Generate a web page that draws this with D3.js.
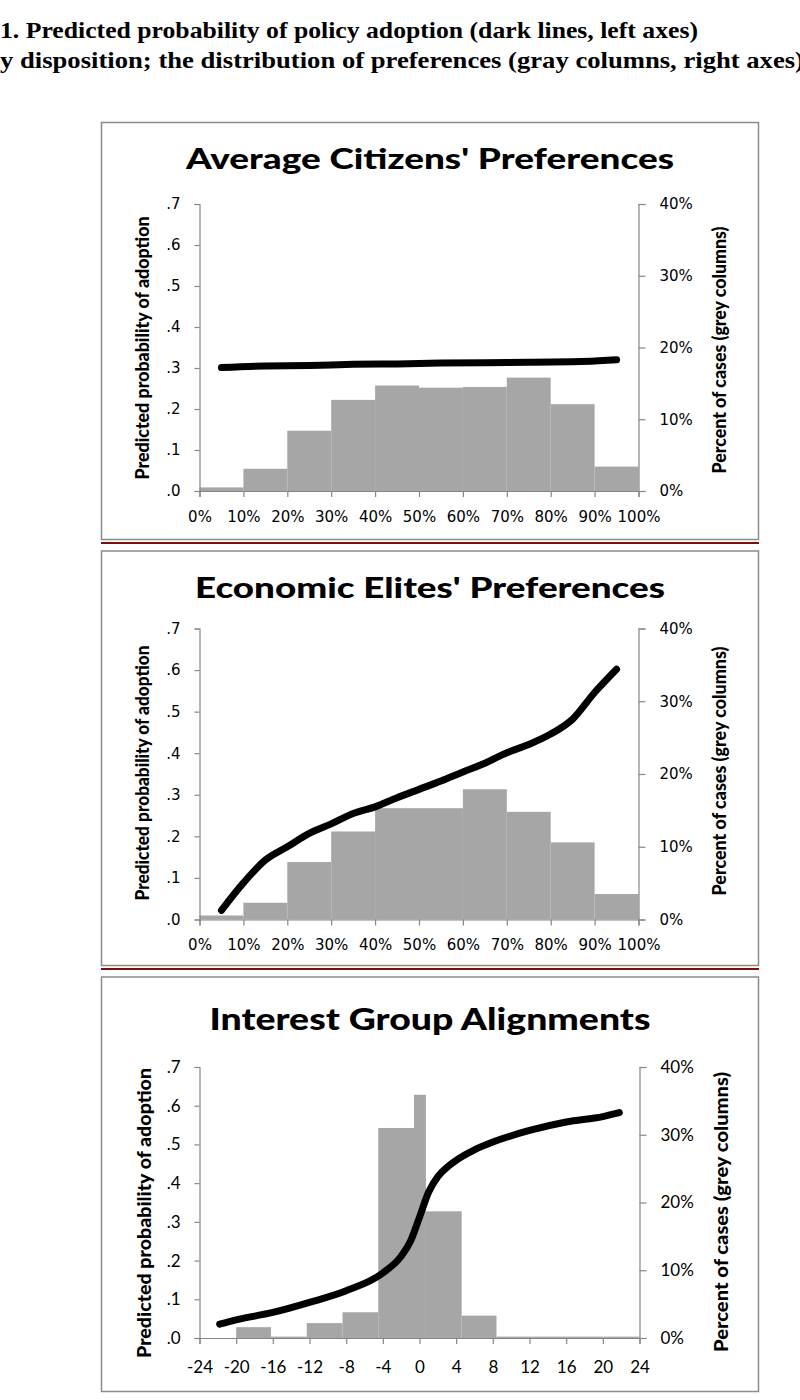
<!DOCTYPE html>
<html>
<head>
<meta charset="utf-8">
<script src="https://cdn.jsdelivr.net/npm/d3@7.9.0/dist/d3.min.js"></script>
<style>
  html, body { margin: 0; padding: 0; background: #fff; }
  svg { display: block; }
  .heading { font-family: "Liberation Serif", "Times New Roman", Times, serif; font-weight: bold; }
</style>
</head>
<body>
<svg id="fig" width="800" height="1400"></svg>
<script>
// ---- data ----
const probTicks = [0, 0.1, 0.2, 0.3, 0.4, 0.5, 0.6, 0.7];
const shareTicks = [0, 10, 20, 30, 40];
const pctTicks = [0, 10, 20, 30, 40, 50, 60, 70, 80, 90, 100];
const pctBinStarts = [0, 10, 20, 30, 40, 50, 60, 70, 80, 90];
const groupTicks = [-24, -20, -16, -12, -8, -4, 0, 4, 8, 12, 16, 20, 24];

// Average citizens
const citizenShares = [0.5, 3.1, 8.4, 12.7, 14.7, 14.4, 14.5, 15.8, 12.1, 3.4];
const citizenProbX = [5, 15, 25, 35, 45, 55, 65, 75, 85, 95];
const citizenProb = [0.301, 0.305, 0.306, 0.309, 0.310, 0.312, 0.313, 0.314, 0.315, 0.320];

// Economic elites
const eliteShares = [0.55, 2.3, 7.9, 12.1, 15.3, 15.3, 17.9, 14.8, 10.6, 3.5];
const eliteProbX = [5, 10, 15, 20, 25, 30, 35, 40, 45, 50, 55, 60, 65, 70, 75, 80, 85, 90, 95];
const eliteProb = [0.022, 0.088, 0.143, 0.175, 0.207, 0.230, 0.255, 0.271, 0.293, 0.313,
                   0.333, 0.355, 0.376, 0.401, 0.421, 0.446, 0.482, 0.546, 0.602];

// Interest groups
const groupBinEdges = [-20, -16.2, -12.3, -8.4, -4.5, -0.6, 0.7, 4.6, 8.4, 12.3, 16.2, 20.1, 24];
const groupShares = [1.6, 0.2, 2.2, 3.8, 31.0, 35.9, 18.7, 3.3, 0.2, 0.2, 0.2, 0.2];
const groupProbX = [-21.8, -20, -16, -12, -8, -4, -2, -1, 0, 1, 2, 3, 4, 6, 8, 12, 16, 20, 21.8];
const groupProb = [0.036, 0.047, 0.066, 0.092, 0.122, 0.168, 0.211, 0.249, 0.312, 0.377,
                   0.417, 0.441, 0.459, 0.486, 0.506, 0.536, 0.558, 0.572, 0.582];

const heading1 = "1. Predicted probability of policy adoption (dark lines, left axes)";
const heading2 = "y disposition; the distribution of preferences (gray columns, right axes)";

const svg = d3.select("#fig");
const BAR = "#a6a6a6";
const AXIS = "#868686";
const SANS = "Lato, 'Open Sans', sans-serif";

svg.append("text").attr("class", "heading").attr("x", 0).attr("y", 38)
  .attr("font-size", 23)
  .attr("textLength", 698).attr("lengthAdjust", "spacingAndGlyphs")
  .text(heading1);
svg.append("text").attr("class", "heading").attr("x", 0).attr("y", 68)
  .attr("font-size", 23)
  .attr("textLength", 804).attr("lengthAdjust", "spacingAndGlyphs")
  .text(heading2);

const panels = [
  {
    title: "Average Citizens' Preferences", titleLen: 488, titleSize: 28, titleY: 169,
    box: [101.5, 122.5, 758.5, 539.5], plot: [199.5, 638.5, 204, 491],
    xDomain: [0, 100], xTicks: pctTicks, xFmt: d => d + "%",
    bins: pctBinStarts.map((s, i) => ({ x0: s, x1: s + 10, v: citizenShares[i] })),
    lineX: citizenProbX, lineY: citizenProb,
    tickFont: "'DejaVu Sans', sans-serif", tickSize: 15, xPad: 14,
    leftLab: { x: 149, cy: 348, len: 263 }, rightLab: { x: 726, cy: 350, len: 247 }
  },
  {
    title: "Economic Elites' Preferences", titleLen: 470, titleSize: 28, titleY: 598,
    box: [101.5, 551, 758.5, 965.5], plot: [199.5, 638.5, 628.5, 919.5],
    xDomain: [0, 100], xTicks: pctTicks, xFmt: d => d + "%",
    bins: pctBinStarts.map((s, i) => ({ x0: s, x1: s + 10, v: eliteShares[i] })),
    lineX: eliteProbX, lineY: eliteProb,
    tickFont: "'DejaVu Sans', sans-serif", tickSize: 15, xPad: 14,
    leftLab: { x: 149, cy: 773, len: 255 }, rightLab: { x: 726, cy: 771, len: 249 }
  },
  {
    title: "Interest Group Alignments", titleLen: 441, titleSize: 30, titleY: 1030,
    box: [101.5, 977, 758.5, 1391.5], plot: [199.5, 639.5, 1067, 1338],
    xDomain: [-24, 24], xTicks: groupTicks, xFmt: d => String(d),
    bins: groupShares.map((v, i) => ({ x0: groupBinEdges[i], x1: groupBinEdges[i + 1], v })),
    lineX: groupProbX, lineY: groupProb,
    tickFont: SANS, tickSize: 17, xPad: 17,
    leftLab: { x: 151, cy: 1213, len: 290 }, rightLab: { x: 728, cy: 1212, len: 280 }
  }
];

// red rules between panels
[543, 969].forEach(yy => {
  svg.append("line").attr("x1", 101).attr("x2", 759).attr("y1", yy).attr("y2", yy)
    .attr("stroke", "#7a0f0f").attr("stroke-width", 2);
});

function styleAxis(g, p) {
  g.selectAll(".domain").attr("stroke", AXIS).attr("stroke-width", 1.2);
  g.selectAll(".tick line").attr("stroke", AXIS).attr("stroke-width", 1.2);
  g.selectAll(".tick text").attr("fill", "#000")
    .attr("font-family", p.tickFont).attr("font-size", p.tickSize);
}

function drawPanel(p) {
  const [bx0, by0, bx1, by1] = p.box;
  const [px0, px1, py0, py1] = p.plot;

  svg.append("rect").attr("x", bx0).attr("y", by0)
    .attr("width", bx1 - bx0).attr("height", by1 - by0)
    .attr("fill", "#fff").attr("stroke", "#8c8c8c").attr("stroke-width", 1.5);

  const x = d3.scaleLinear().domain(p.xDomain).range([px0, px1]);
  const y = d3.scaleLinear().domain([0, 0.7]).range([py1, py0]);
  const yR = d3.scaleLinear().domain([0, 40]).range([py1, py0]);

  // gray columns
  svg.append("g").selectAll("rect").data(p.bins).join("rect")
    .attr("x", d => x(d.x0)).attr("width", d => x(d.x1) - x(d.x0))
    .attr("y", d => yR(d.v)).attr("height", d => yR(0) - yR(d.v))
    .attr("fill", BAR);

  // axes
  const gl = svg.append("g").attr("transform", `translate(${px0},0)`)
    .call(d3.axisLeft(y).tickValues(probTicks).tickSize(5).tickPadding(14)
      .tickFormat(d => d3.format(".1f")(d).replace(/^0/, "")));
  styleAxis(gl, p);

  const gr = svg.append("g").attr("transform", `translate(${px1},0)`)
    .call(d3.axisRight(yR).tickValues(shareTicks).tickSize(7).tickPadding(14)
      .tickFormat(d => d + "%"));
  styleAxis(gr, p);

  const gb = svg.append("g").attr("transform", `translate(0,${py1})`)
    .call(d3.axisBottom(x).tickValues(p.xTicks).tickSize(6).tickPadding(p.xPad)
      .tickFormat(p.xFmt));
  styleAxis(gb, p);

  // dark line
  const line = d3.line().x(d => x(d[0])).y(d => y(d[1])).curve(d3.curveMonotoneX);
  svg.append("path").datum(p.lineX.map((v, i) => [v, p.lineY[i]]))
    .attr("d", line).attr("fill", "none").attr("stroke", "#000")
    .attr("stroke-width", 7).attr("stroke-linecap", "round").attr("stroke-linejoin", "round");

  // title
  svg.append("text").attr("x", (bx0 + bx1) / 2).attr("y", p.titleY)
    .attr("text-anchor", "middle")
    .attr("font-family", SANS).attr("font-weight", "900")
    .attr("font-size", p.titleSize)
    .attr("textLength", p.titleLen).attr("lengthAdjust", "spacingAndGlyphs")
    .text(p.title);

  // axis titles
  svg.append("text").attr("transform", `translate(${p.leftLab.x},${p.leftLab.cy}) rotate(-90)`)
    .attr("text-anchor", "middle")
    .attr("font-family", SANS).attr("font-weight", "900").attr("font-size", 18)
    .attr("textLength", p.leftLab.len).attr("lengthAdjust", "spacingAndGlyphs")
    .text("Predicted probability of adoption");
  svg.append("text").attr("transform", `translate(${p.rightLab.x},${p.rightLab.cy}) rotate(-90)`)
    .attr("text-anchor", "middle")
    .attr("font-family", SANS).attr("font-weight", "900").attr("font-size", 18)
    .attr("textLength", p.rightLab.len).attr("lengthAdjust", "spacingAndGlyphs")
    .text("Percent of cases (grey columns)");
}

panels.forEach(drawPanel);
</script>
</body>
</html>
